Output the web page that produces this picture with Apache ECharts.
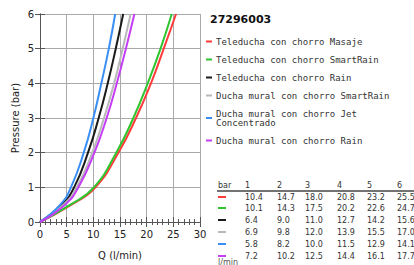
<!DOCTYPE html>
<html>
<head>
<meta charset="utf-8">
<script src="https://cdn.jsdelivr.net/npm/echarts@6/dist/echarts.min.js"></script>
<style>
  html, body { margin: 0; padding: 0; background: #fff; }
  #chart { width: 414px; height: 265px; }
</style>
</head>
<body>
<div id="chart"></div>
<script>
// presiones (bar) y caudal Q (l/min) de cada chorro
const pressures = [1, 2, 3, 4, 5, 6];
const names = [
  "Teleducha con chorro Masaje",
  "Teleducha con chorro SmartRain",
  "Teleducha con chorro Rain",
  "Ducha mural con chorro SmartRain",
  "Ducha mural con chorro Jet\nConcentrado",
  "Ducha mural con chorro Rain"
];
const colors = ["#ff3b3b", "#2ec52e", "#1a1a1a", "#b8b8b8", "#3a8ff5", "#c53df5"];
const masaje = [10.4, 14.7, 18.0, 20.8, 23.2, 25.5];
const teleSmartRain = [10.1, 14.3, 17.5, 20.2, 22.6, 24.7];
const teleRain = [6.4, 9.0, 11.0, 12.7, 14.2, 15.6];
const muralSmartRain = [6.9, 9.8, 12.0, 13.9, 15.5, 17.0];
const jet = [5.8, 8.2, 10.0, 11.5, 12.9, 14.1];
const muralRain = [7.2, 10.2, 12.5, 14.4, 16.1, 17.7];
const flows = [masaje, teleSmartRain, teleRain, muralSmartRain, jet, muralRain];
const flowAtHalfBar = [5.9, 5.7, 4.1, 4.4, 3.8, 4.7];

const chart = echarts.init(document.getElementById("chart"), null, { renderer: "svg" });

const series = flows.map((q, i) => ({
  name: names[i],
  type: "line",
  smooth: true,
  symbol: "none",
  lineStyle: { width: 2, color: colors[i] },
  itemStyle: { color: colors[i] },
  data: [[0, 0], [flowAtHalfBar[i], 0.5]].concat(q.map((v, k) => [v, pressures[k]]))
}));

// tabla de valores a la derecha
const colX = [245, 277, 305, 337, 367, 397];
const rowY = [198, 209, 221, 233, 245, 257];
const tableFont = { fontFamily: "DejaVu Sans", fontSize: 8, fill: "#333" };
const tableGraphics = [];
tableGraphics.push({
  type: "text", left: 218, top: 181,
  style: Object.assign({ text: "bar" }, tableFont)
});
pressures.forEach((p, k) => {
  tableGraphics.push({
    type: "text", left: colX[k], top: 181,
    style: Object.assign({ text: String(p) }, tableFont)
  });
});
tableGraphics.push({
  type: "line",
  shape: { x1: 217, y1: 191, x2: 414, y2: 191 },
  style: { stroke: "#444", lineWidth: 1.5 }
});
flows.forEach((q, i) => {
  tableGraphics.push({
    type: "line",
    shape: { x1: 218, y1: rowY[i] - 1, x2: 226, y2: rowY[i] - 1 },
    style: { stroke: colors[i], lineWidth: 2 }
  });
  q.forEach((v, k) => {
    tableGraphics.push({
      type: "text", left: colX[k], top: rowY[i] - 5,
      style: Object.assign({ text: v.toFixed(1) }, tableFont)
    });
  });
});
tableGraphics.push({
  type: "text", left: 218, top: 258,
  style: Object.assign({}, tableFont, { text: "l/min", fill: "#555" })
});

chart.setOption({
  animation: false,
  backgroundColor: "#fff",
  textStyle: { fontFamily: "DejaVu Sans" },
  title: {
    text: "27296003",
    left: 205,
    top: 9,
    textStyle: { fontFamily: "DejaVu Sans", fontSize: 11, fontWeight: "bold", color: "#111" }
  },
  legend: {
    orient: "vertical",
    left: 206,
    top: 37,
    padding: 0,
    itemWidth: 6,
    itemHeight: 2,
    itemGap: 9,
    icon: "rect",
    selectedMode: false,
    data: names,
    textStyle: {
      fontFamily: "DejaVu Sans Mono",
      fontSize: 9,
      lineHeight: 9,
      color: "#333",
      padding: [0, 0, 0, -1]
    }
  },
  grid: { left: 40, right: 214, top: 14, height: 208 },
  xAxis: [
    {
      type: "value", min: 0, max: 30, interval: 5,
      name: "Q (l/min)", nameLocation: "middle", nameGap: 28,
      nameTextStyle: { fontSize: 10, color: "#222" },
      axisLine: { lineStyle: { color: "#555" } },
      axisTick: { inside: true, length: 5, lineStyle: { color: "#555" } },
      minorTick: { show: true, splitNumber: 5, length: 3, lineStyle: { color: "#555" } },
      axisLabel: { fontSize: 10, color: "#222", margin: 7 },
      splitLine: { show: true, lineStyle: { color: "#aaa", width: 1 } }
    },
    {
      type: "value", min: 0, max: 30, interval: 5, position: "top",
      axisLine: { show: true, lineStyle: { color: "#555" } },
      axisTick: { inside: true, length: 5, lineStyle: { color: "#555" } },
      minorTick: { show: true, splitNumber: 5, length: 3, lineStyle: { color: "#555" } },
      axisLabel: { show: false },
      splitLine: { show: false }
    }
  ],
  yAxis: [
    {
      type: "value", min: 0, max: 6, interval: 1,
      name: "Pressure (bar)", nameLocation: "middle", nameGap: 20,
      nameTextStyle: { fontSize: 10, color: "#222" },
      axisLine: { show: true, lineStyle: { color: "#555" } },
      axisTick: { show: true, inside: true, length: 5, lineStyle: { color: "#555" } },
      axisLabel: { fontSize: 10, color: "#222", margin: 6 },
      splitLine: { show: true, lineStyle: { color: "#aaa", width: 1 } }
    },
    {
      type: "value", min: 0, max: 6, interval: 1, position: "right",
      axisLine: { show: true, lineStyle: { color: "#555" } },
      axisTick: { show: true, inside: true, length: 5, lineStyle: { color: "#555" } },
      axisLabel: { show: false },
      splitLine: { show: false }
    }
  ],
  graphic: tableGraphics,
  series: series
});
</script>
</body>
</html>
